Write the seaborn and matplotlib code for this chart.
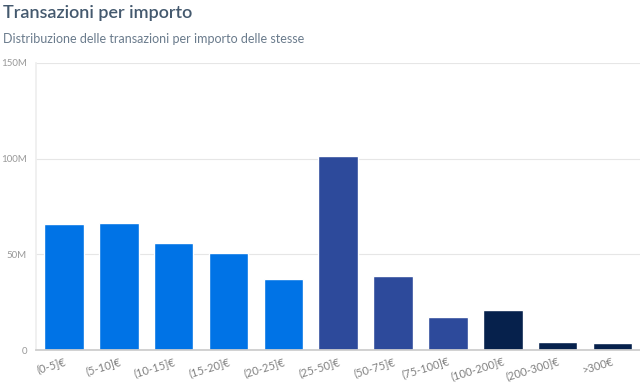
import matplotlib
matplotlib.use("Agg")
import matplotlib.pyplot as plt
import seaborn as sns
import pandas as pd
from matplotlib.ticker import FuncFormatter

categories = ["(0-5]€", "(5-10]€", "(10-15]€", "(15-20]€", "(20-25]€", "(25-50]€",
              "(50-75]€", "(75-100]€", "(100-200]€", "(200-300]€", ">300€"]
values_m = [65.8, 66.4, 56.1, 50.5, 36.9, 101.4, 38.5, 17.3, 20.8, 4.1, 3.7]
groups = ["a", "a", "a", "a", "a", "b", "b", "b", "c", "c", "c"]
palette = {"a": "#0073E6", "b": "#2D4A9B", "c": "#06214C"}
y_ticks = [0, 50, 100, 150]

df = pd.DataFrame({"cat": categories, "val": values_m, "grp": groups})

sns.set_theme(style="white")
plt.rcParams["font.family"] = ["Lato", "DejaVu Sans"]

fig = plt.figure(figsize=(6.4, 3.84), dpi=100)
ax = fig.add_axes([0.057, 0.0885, 0.943, 0.7475])

sns.barplot(data=df, x="cat", y="val", hue="grp", palette=palette, dodge=False,
            width=0.72, legend=False, ax=ax, saturation=1)

ax.set_xlim(-0.5, len(categories) - 0.5)
ax.set_ylim(0, 150)
ax.set_yticks(y_ticks)
ax.yaxis.set_major_formatter(FuncFormatter(lambda v, p: "0" if v == 0 else f"{int(v)}M"))
ax.grid(axis="y", color="#e6e6e6", linewidth=0.8)
ax.set_axisbelow(True)
for s in ["top", "right"]:
    ax.spines[s].set_visible(False)
ax.spines["left"].set_color("#eeeeee")
ax.spines["bottom"].set_color("#cccccc")
ax.set_xlabel("")
ax.set_ylabel("")
ax.tick_params(axis="y", labelsize=7, colors="#999999", length=6, width=0.8, pad=1)
ax.tick_params(axis="y", color="#e6e6e6")
ax.tick_params(axis="x", labelsize=8, labelcolor="#808080", length=0, pad=4)
for lbl in ax.get_xticklabels():
    lbl.set_rotation(17)
    lbl.set_ha("right")
    lbl.set_rotation_mode("anchor")

fig.text(0.005, 0.965, "Transazioni per importo", fontsize=13, fontweight="semibold",
         color="#44596e", ha="left", va="center")
fig.text(0.005, 0.899, "Distribuzione delle transazioni per importo delle stesse",
         fontsize=9, color="#6a7b8c", ha="left", va="center")

fig.savefig("out.png", dpi=100)
